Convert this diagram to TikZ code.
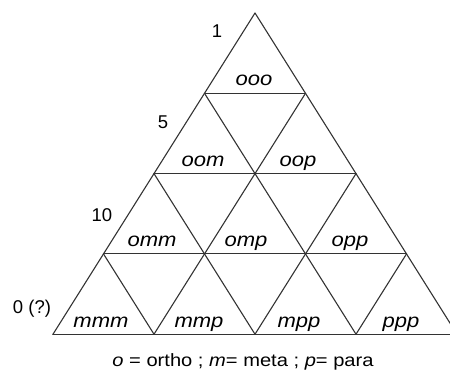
\documentclass[tikz,border=0pt]{standalone}
\usepackage{fontspec}
\setmainfont{Liberation Sans}
\newfontfamily\isofont[FakeStretch=1.13]{Liberation Sans}

\begin{document}
\begin{tikzpicture}[x=1pt,y=-1pt,
    grid/.style={line width=1.1pt, black!80, line cap=round},
    isomer/.style={font=\isofont\fontsize{19.5}{22}\selectfont\itshape, anchor=base, inner sep=0pt},
    level/.style={font=\fontsize{18.5}{21}\selectfont, anchor=base, inner sep=0pt}]
    \useasboundingbox (0,0) rectangle (450,376);

    % Vertices of the grid, row by row
    \foreach \r in {0,...,4}
        \foreach \i in {0,...,\r}
            \coordinate (v\r\i) at ({255+(2*\i-\r)*50.5}, {13+\r*80.3});

    % Horizontal lines
    \foreach \r in {1,...,4}
        \draw[grid] (v\r0) -- (v\r\r);

    % Lines going down to the left
    \foreach \i in {0,...,4}
        \draw[grid] (v\i\i) -- (v4\i);

    % Lines going down to the right
    \foreach \r/\j in {0/4,1/3,2/2,3/1,4/0}
        \draw[grid] (v\r0) -- (v4\j);

    % Isomer labels
    \node[isomer] (ooo) at (254,85.5) {ooo};
    \node[isomer] (oom) at (203,166) {oom};
    \node[isomer] (oop) at (298,166) {oop};
    \node[isomer] (omm) at (152,246.5) {omm};
    \node[isomer] (omp) at (246,246.5) {omp};
    \node[isomer] (opp) at (350,246.5) {opp};
    \node[isomer] (mmm) at (101,327) {mmm};
    \node[isomer] (mmp) at (199,327) {mmp};
    \node[isomer] (mpp) at (299,327) {mpp};
    \node[isomer] (ppp) at (401,327) {ppp};

    % Levels on the left
    \node[level] (l1) at (217,37) {1};
    \node[level] (l5) at (163,128) {5};
    \node[level] (l10) at (102,221) {10};
    \node[level] (l0) at (32,313) {0 (?)};

    % Key
    \node[level, font=\isofont\fontsize{17.8}{21}\selectfont] (key) at (243,366)
        {\textit{o} = ortho ; \textit{m}= meta ; \textit{p}= para};
\end{tikzpicture}
\end{document}
